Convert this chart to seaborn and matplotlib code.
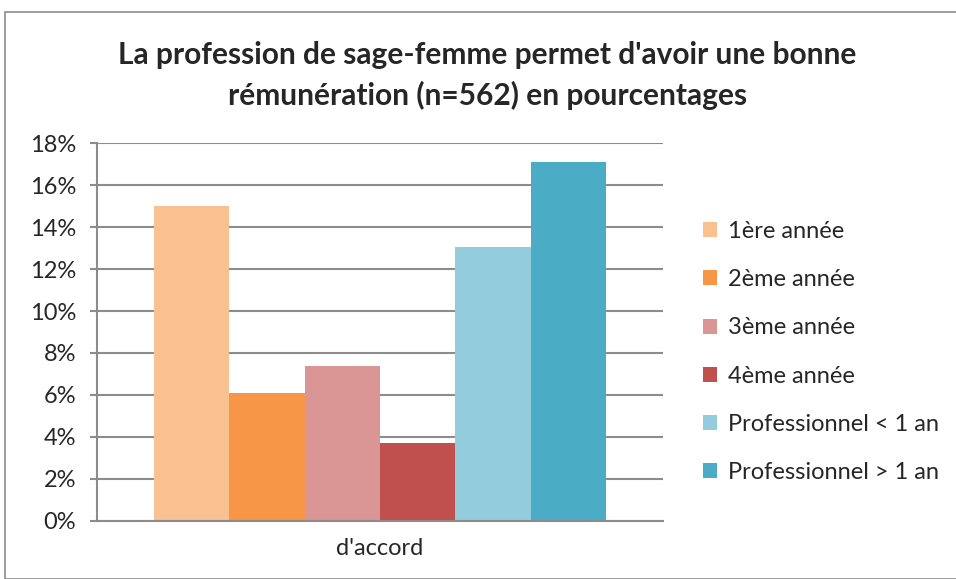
import pandas as pd
import matplotlib.pyplot as plt
import seaborn as sns
from matplotlib.patches import Rectangle
from matplotlib.ticker import PercentFormatter

# Data
categories = ["d'accord"]
groups = ['1ère année', '2ème année', '3ème année', '4ème année',
          'Professionnel < 1 an', 'Professionnel > 1 an']
values = [15.0, 6.1, 7.4, 3.7, 13.05, 17.1]
colors = ['#F9C090', '#F79646', '#D99694', '#C0504D', '#93CDDD', '#4BACC6']

df = pd.DataFrame({
    'categorie': categories * len(groups),
    'groupe': groups,
    'pourcentage': values,
})

sns.set_style('white')
plt.rcParams['font.family'] = ['Lato', 'DejaVu Sans']

fig = plt.figure(figsize=(9.56, 5.79), dpi=100)
ax = fig.add_axes([0.1015, 0.1002, 0.592, 0.6528])

sns.barplot(data=df, x='categorie', y='pourcentage', hue='groupe',
            palette=colors, hue_order=groups, width=0.8, saturation=1,
            ax=ax, legend=False)
for p in ax.patches:
    p.set_edgecolor('none')

ax.set_xlim(-0.5, 0.5)
ax.set_ylim(0, 18)
ax.set_yticks(range(0, 19, 2))
ax.yaxis.set_major_formatter(PercentFormatter(decimals=0))
ax.set_xlabel('')
ax.set_ylabel('')
ax.grid(axis='y', color='#8C8C8C', linewidth=1.5)
ax.set_axisbelow(True)
for side in ['top', 'right']:
    ax.spines[side].set_visible(False)
for side in ['left', 'bottom']:
    ax.spines[side].set_color('#8C8C8C')
    ax.spines[side].set_linewidth(1.5)
ax.tick_params(axis='y', which='major', length=5, width=1.5, color='#8C8C8C',
               labelsize=17, pad=10, direction='out', left=True)
ax.tick_params(axis='x', length=0, labelsize=17, pad=12)

# legend
handles = [Rectangle((0, 0), 1, 1, facecolor=c, edgecolor='none') for c in colors]
ax.legend(handles, groups, loc='center left', bbox_to_anchor=(1.071, 0.447),
          frameon=False, fontsize=17, handlelength=0.6, handleheight=0.6,
          handletextpad=0.45, labelspacing=1.15, borderpad=0, borderaxespad=0)

fig.text(0.51, 0.870, "La profession de sage-femme permet d'avoir une bonne\n"
         "rémunération (n=562) en pourcentages",
         ha='center', va='center', fontsize=21.5, fontweight='bold',
         linespacing=1.5)

# outer chart border
fig.patches.append(Rectangle((5 / 956, 0), 1, 1 - 12 / 579, transform=fig.transFigure,
                             fill=False, edgecolor='#8C8C8C', linewidth=1.2))

fig.savefig('out.png', dpi=100)
